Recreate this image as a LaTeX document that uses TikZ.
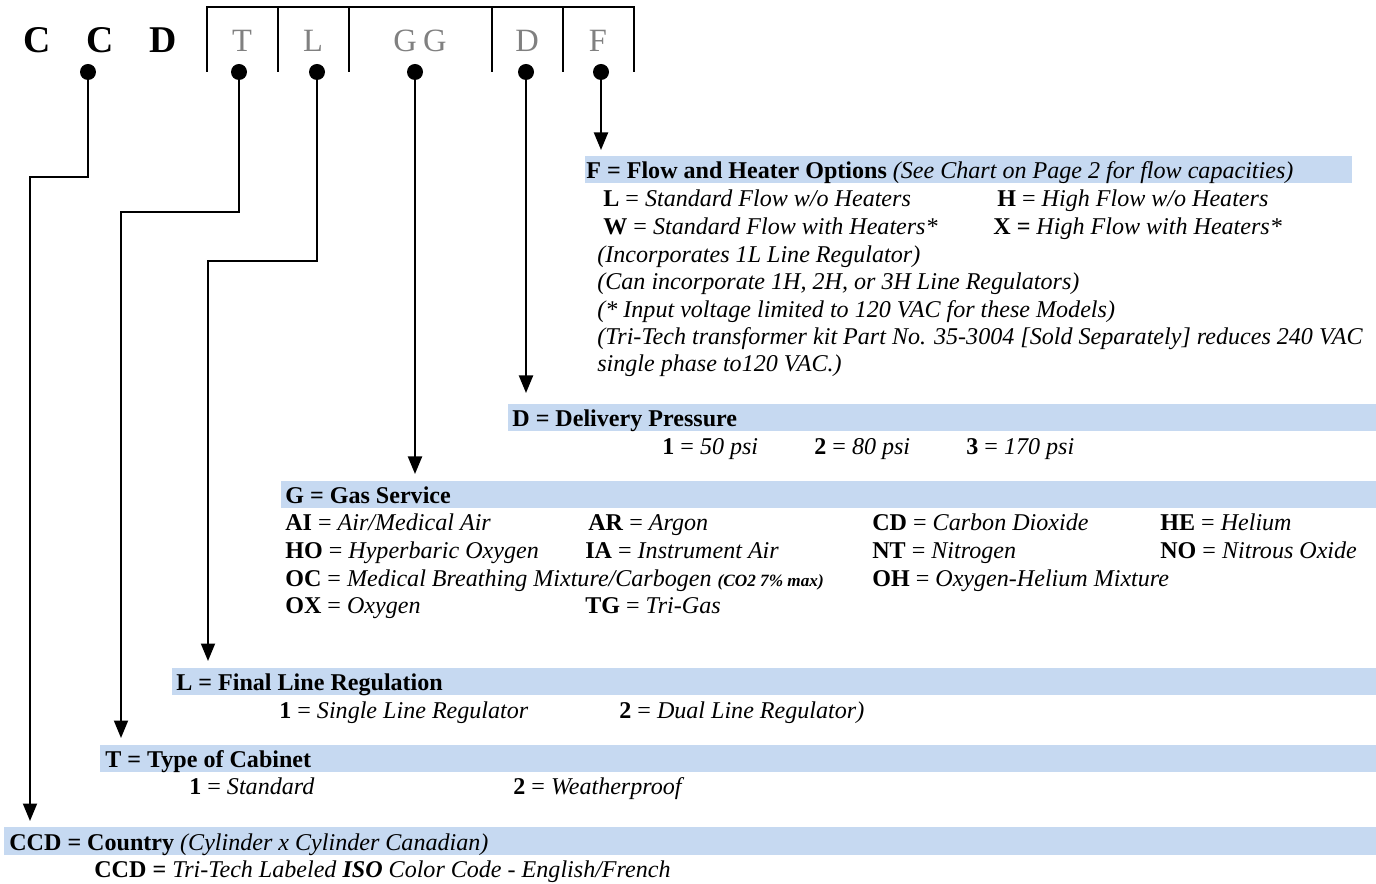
\documentclass[tikz,border=0pt]{standalone}
\usepackage{fontspec}
\setmainfont{Liberation Serif}
\usetikzlibrary{arrows.meta}
\definecolor{bandblue}{HTML}{C6D9F1}
\definecolor{codegray}{HTML}{808080}
\begin{document}
\begin{tikzpicture}[x=0.02cm,y=-0.02cm,
  txt/.style={anchor=base west, inner sep=0pt, yshift=-1.1pt, font=\fontsize{13.7}{16}\selectfont},
  hdr/.style={anchor=base west, inner sep=0pt, yshift=-1.1pt, font=\fontsize{13.7}{16}\selectfont\bfseries},
  band/.style={fill=bandblue},
  dot/.style={circle, fill=black, inner sep=0pt, minimum size=0.32cm},
  wire/.style={line width=1.1pt},
  arr/.style={wire, -{Triangle[width=0.28cm,length=0.35cm]}},
  big/.style={anchor=base, inner sep=0pt, font=\fontsize{21.5}{24}\selectfont\bfseries},
  code/.style={anchor=base, inner sep=0pt, text=codegray, font=\fontsize{18.5}{22}\selectfont}]

\useasboundingbox (0,0) rectangle (1376,884);

% bands
\path[band] (585,156) rectangle (1352,183);
\path[band] (508,404) rectangle (1376,431);
\path[band] (281,481) rectangle (1376,508);
\path[band] (172,668) rectangle (1376,695);
\path[band] (100,745) rectangle (1376,772);
\path[band] (4,827) rectangle (1376,855);

% top code
\node[big] (c1) at (37,53) {C};
\node[big] (c2) at (100,53) {C};
\node[big] (c3) at (163,53) {D};
\node[code] (gT) at (242,52) {T};
\node[code] (gL) at (313,52) {L};
\node[code] (gG) at (420,52) {G\kern3.5pt G};
\node[code] (gD) at (527,52) {D};
\node[code] (gF) at (598,52) {F};

\draw[wire] (207,72) -- (207,7) -- (634,7) -- (634,72);
\foreach \x in {278,349,492,563} \draw[wire] (\x,7) -- (\x,72);

% dots
\node[dot] (dC) at (88,72) {};
\node[dot] (dT) at (239,72) {};
\node[dot] (dL) at (317,72) {};
\node[dot] (dG) at (415,72) {};
\node[dot] (dD) at (526,72) {};
\node[dot] (dF) at (601,72) {};

% connector points
\coordinate (tF) at (601,150);
\coordinate (tD) at (526,393);
\coordinate (tG) at (415,474);
\coordinate (kL) at (208,261);
\coordinate (tL) at (208,661);
\coordinate (kT) at (121,212);
\coordinate (tT) at (121,738);
\coordinate (kC) at (30,177);
\coordinate (tC) at (30,821);

\draw[arr] (dF.center) -- (tF);
\draw[arr] (dD.center) -- (tD);
\draw[arr] (dG.center) -- (tG);
\draw[arr] (dL.center) |- (kL) -- (tL);
\draw[arr] (dT.center) |- (kT) -- (tT);
\draw[arr] (dC.center) |- (kC) -- (tC);

% F section
\node[hdr] (hF) at (586,177) {F = Flow and Heater Options \normalfont\itshape(See Chart on Page 2 for flow capacities)};
\node[txt] (f1) at (603,205) {\textbf{L} = \textit{Standard Flow w/o Heaters}};
\node[txt] (f1b) at (997,205) {\textbf{H} = \textit{High Flow w/o Heaters}};
\node[txt] (f2) at (603,233) {\textbf{W} = \textit{Standard Flow with Heaters*}};
\node[txt] (f2b) at (993,233) {\textbf{X =} \textit{High Flow with Heaters*}};
\node[txt] (f3) at (597,261) {\itshape (Incorporates 1L Line Regulator)};
\node[txt] (f4) at (597,288) {\itshape (Can incorporate 1H, 2H, or 3H Line Regulators)};
\node[txt] (f5) at (597,316) {\itshape (* Input voltage limited to 120 VAC for these Models)};
\node[txt] (f6) at (597,343) {\itshape (Tri-Tech transformer kit Part No. 35-3004 [Sold Separately] reduces 240 VAC};
\node[txt] (f7) at (597,370) {\itshape single phase to120 VAC.)};

% D section
\node[hdr] (hD) at (512,425) {D = Delivery Pressure};
\node[txt] (d1) at (662,453) {\textbf{1} = \textit{50 psi}};
\node[txt] (d2) at (814,453) {\textbf{2} = \textit{80 psi}};
\node[txt] (d3) at (966,453) {\textbf{3} = \textit{170 psi}};

% G section
\node[hdr] (hG) at (285,502) {G = Gas Service};
\node[txt] (gAI) at (285,529) {\textbf{AI} = \textit{Air/Medical Air}};
\node[txt] (gAR) at (588,529) {\textbf{AR} = \textit{Argon}};
\node[txt] (gCD) at (872,529) {\textbf{CD} = \textit{Carbon Dioxide}};
\node[txt] (gHE) at (1160,529) {\textbf{HE} = \textit{Helium}};
\node[txt] (gHO) at (285,557) {\textbf{HO} = \textit{Hyperbaric Oxygen}};
\node[txt] (gIA) at (585,557) {\textbf{IA} = \textit{Instrument Air}};
\node[txt] (gNT) at (872,557) {\textbf{NT} = \textit{Nitrogen}};
\node[txt] (gNO) at (1160,557) {\textbf{NO} = \textit{Nitrous Oxide}};
\node[txt] (gOC) at (285,585) {\textbf{OC} = \textit{Medical Breathing Mixture/Carbogen} {\fontsize{9.8}{11}\selectfont\bfseries\itshape (CO2 7\% max)}};
\node[txt] (gOH) at (872,585) {\textbf{OH} = \textit{Oxygen-Helium Mixture}};
\node[txt] (gOX) at (285,612) {\textbf{OX} = \textit{Oxygen}};
\node[txt] (gTG) at (585,612) {\textbf{TG} = \textit{Tri-Gas}};

% L section
\node[hdr] (hL) at (176,689) {L = Final Line Regulation};
\node[txt] (l1) at (279,717) {\textbf{1} = \textit{Single Line Regulator}};
\node[txt] (l2) at (619,717) {\textbf{2} = \textit{Dual Line Regulator)}};

% T section
\node[hdr] (hT) at (105,766) {T = Type of Cabinet};
\node[txt] (t1) at (189,793) {\textbf{1} = \textit{Standard}};
\node[txt] (t2) at (513,793) {\textbf{2} = \textit{Weatherproof}};

% CCD section
\node[hdr] (hC) at (9,849) {CCD = Country \normalfont\itshape(Cylinder x Cylinder Canadian)};
\node[txt] (cc) at (94,876) {\textbf{CCD =} \textit{Tri-Tech Labeled \textbf{ISO} Color Code - English/French}};
\end{tikzpicture}
\end{document}
